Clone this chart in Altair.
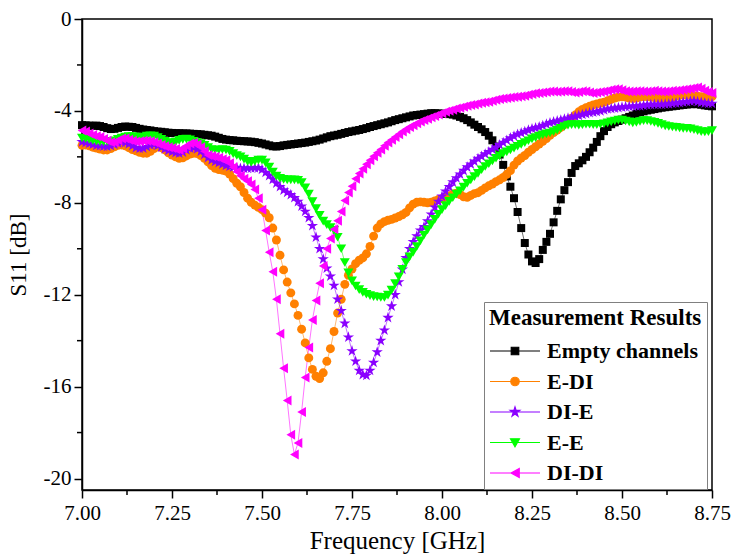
import altair as alt
import pandas as pd

# Frequency sweep (GHz), one point every 10 MHz from 7.00 to 8.75
freq = [round(7.0 + 0.01 * i, 2) for i in range(176)]

series_names = ["Empty channels", "E-DI", "DI-E", "E-E", "DI-DI"]
series_colors = ["#000000", "#FF8000", "#8A00FF", "#00FF00", "#FF00FF"]

empty_channels = [
    -4.62, -4.63, -4.64, -4.65, -4.64, -4.66, -4.70, -4.75, -4.79, -4.78,
    -4.74, -4.70, -4.68, -4.69, -4.70, -4.74, -4.78, -4.81, -4.83, -4.85,
    -4.88, -4.90, -4.91, -4.93, -4.95, -4.96, -4.97, -4.97, -4.98, -4.98,
    -4.99, -5.00, -5.01, -5.02, -5.04, -5.06, -5.08, -5.12, -5.17, -5.22,
    -5.25, -5.27, -5.28, -5.30, -5.31, -5.32, -5.33, -5.34, -5.36, -5.39,
    -5.42, -5.46, -5.50, -5.54, -5.55, -5.53, -5.50, -5.48, -5.46, -5.44,
    -5.42, -5.40, -5.38, -5.35, -5.32, -5.29, -5.25, -5.20, -5.15, -5.10,
    -5.07, -5.04, -5.00, -4.96, -4.92, -4.89, -4.86, -4.83, -4.79, -4.75,
    -4.70, -4.66, -4.62, -4.58, -4.54, -4.50, -4.45, -4.40, -4.36, -4.32,
    -4.28, -4.24, -4.20, -4.18, -4.16, -4.14, -4.12, -4.10, -4.10, -4.11,
    -4.12, -4.13, -4.14, -4.16, -4.20, -4.26, -4.32, -4.40, -4.50, -4.60,
    -4.70, -4.80, -4.92, -5.08, -5.28, -5.55, -5.90, -6.35, -6.85, -7.30,
    -7.80, -8.40, -9.10, -9.75, -10.25, -10.55, -10.62, -10.45, -10.05, -9.70,
    -9.35, -8.85, -8.35, -7.85, -7.45, -7.10, -6.70, -6.40, -6.28, -6.15,
    -6.00, -5.80, -5.60, -5.35, -5.10, -4.88, -4.70, -4.58, -4.50, -4.44,
    -4.38, -4.32, -4.26, -4.20, -4.12, -4.06, -4.02, -3.98, -3.95, -3.92,
    -3.89, -3.86, -3.84, -3.82, -3.80, -3.78, -3.76, -3.74, -3.72, -3.71,
    -3.70, -3.71, -3.73, -3.76, -3.78, -3.80,
]

e_di = [
    -5.50, -5.48, -5.52, -5.58, -5.62, -5.66, -5.70, -5.70, -5.64, -5.56,
    -5.50, -5.48, -5.52, -5.60, -5.68, -5.74, -5.80, -5.84, -5.84, -5.76,
    -5.64, -5.56, -5.60, -5.70, -5.82, -5.92, -6.00, -6.06, -6.04, -5.96,
    -5.88, -5.84, -5.86, -5.94, -6.06, -6.22, -6.38, -6.50, -6.55, -6.58,
    -6.62, -6.75, -6.95, -7.15, -7.30, -7.55, -7.80, -7.98, -8.10, -8.20,
    -8.30, -8.45, -8.65, -9.10, -9.62, -10.28, -10.92, -11.45, -11.92, -12.40,
    -12.90, -13.50, -14.10, -14.75, -15.25, -15.55, -15.65, -15.40, -14.90, -14.35,
    -13.60, -12.80, -12.20, -11.55, -11.15, -10.88, -10.65, -10.50, -10.40, -10.22,
    -9.90, -9.45, -9.10, -8.92, -8.82, -8.76, -8.72, -8.66, -8.60, -8.52,
    -8.42, -8.22, -8.06, -7.98, -7.96, -7.98, -8.00, -7.98, -7.92, -7.86,
    -7.82, -7.76, -7.70, -7.62, -7.58, -7.64, -7.74, -7.76, -7.68, -7.60,
    -7.56, -7.46, -7.35, -7.26, -7.18, -7.08, -7.00, -6.90, -6.76, -6.60,
    -6.36, -6.18, -6.05, -5.94, -5.80, -5.68, -5.56, -5.44, -5.32, -5.20,
    -5.06, -4.94, -4.84, -4.72, -4.60, -4.48, -4.32, -4.18, -4.04, -3.94,
    -3.86, -3.80, -3.74, -3.70, -3.66, -3.62, -3.56, -3.50, -3.44, -3.40,
    -3.38, -3.40, -3.44, -3.46, -3.44, -3.40, -3.38, -3.38, -3.40, -3.42,
    -3.44, -3.46, -3.46, -3.44, -3.40, -3.36, -3.32, -3.30, -3.30, -3.32,
    -3.34, -3.36, -3.38, -3.38, -3.38, -3.38,
]

di_e = [
    -5.35, -5.38, -5.42, -5.46, -5.50, -5.52, -5.54, -5.55, -5.52, -5.46,
    -5.40, -5.36, -5.38, -5.44, -5.52, -5.60, -5.64, -5.62, -5.56, -5.48,
    -5.46, -5.50, -5.58, -5.66, -5.72, -5.78, -5.82, -5.84, -5.80, -5.70,
    -5.62, -5.60, -5.66, -5.76, -5.90, -6.04, -6.14, -6.20, -6.26, -6.32,
    -6.38, -6.42, -6.45, -6.48, -6.50, -6.50, -6.50, -6.49, -6.48, -6.48,
    -6.55, -6.68, -6.82, -6.98, -7.15, -7.30, -7.45, -7.55, -7.65, -7.78,
    -7.95, -8.15, -8.38, -8.65, -9.00, -9.50, -10.00, -10.45, -10.85, -11.20,
    -11.60, -12.20, -12.70, -13.25, -13.85, -14.45, -14.90, -15.30, -15.48, -15.52,
    -15.30, -14.95, -14.50, -14.00, -13.55, -13.00, -12.50, -12.00, -11.45, -10.90,
    -10.40, -10.00, -9.70, -9.45, -9.20, -9.05, -8.80, -8.50, -8.20, -7.95,
    -7.72, -7.50, -7.30, -7.10, -6.92, -6.76, -6.60, -6.45, -6.32, -6.20,
    -6.08, -5.98, -5.88, -5.78, -5.68, -5.58, -5.48, -5.38, -5.28, -5.18,
    -5.10, -5.02, -4.96, -4.90, -4.84, -4.78, -4.74, -4.70, -4.64, -4.58,
    -4.52, -4.48, -4.44, -4.40, -4.36, -4.32, -4.28, -4.24, -4.20, -4.16,
    -4.12, -4.08, -4.06, -4.04, -4.00, -3.96, -3.92, -3.90, -3.88, -3.86,
    -3.84, -3.82, -3.81, -3.80, -3.79, -3.78, -3.76, -3.74, -3.73, -3.72,
    -3.72, -3.72, -3.71, -3.70, -3.68, -3.66, -3.64, -3.62, -3.60, -3.58,
    -3.57, -3.60, -3.63, -3.66, -3.68, -3.68,
]

e_e = [
    -5.18, -5.20, -5.24, -5.28, -5.32, -5.34, -5.34, -5.33, -5.33, -5.30,
    -5.24, -5.18, -5.14, -5.12, -5.12, -5.14, -5.16, -5.14, -5.10, -5.08,
    -5.10, -5.16, -5.24, -5.32, -5.38, -5.40, -5.36, -5.28, -5.24, -5.23,
    -5.26, -5.32, -5.38, -5.42, -5.50, -5.60, -5.68, -5.70, -5.70, -5.68,
    -5.70, -5.76, -5.86, -5.94, -6.00, -6.10, -6.20, -6.24, -6.20, -6.14,
    -6.14, -6.26, -6.45, -6.66, -6.84, -6.94, -6.98, -7.00, -7.00, -7.00,
    -7.02, -7.12, -7.35, -7.62, -7.95, -8.25, -8.55, -8.80, -8.95, -9.08,
    -9.20, -9.50, -10.00, -10.60, -11.05, -11.40, -11.62, -11.78, -11.90, -11.98,
    -12.04, -12.08, -12.10, -12.12, -12.12, -12.02, -11.80, -11.52, -11.22, -10.90,
    -10.60, -10.35, -10.15, -9.90, -9.65, -9.40, -9.18, -8.95, -8.72, -8.50,
    -8.30, -8.12, -7.94, -7.78, -7.62, -7.48, -7.32, -7.15, -7.00, -6.86,
    -6.72, -6.56, -6.42, -6.30, -6.18, -6.06, -5.96, -5.86, -5.78, -5.70,
    -5.62, -5.54, -5.46, -5.38, -5.30, -5.22, -5.16, -5.10, -5.04, -5.00,
    -4.96, -4.90, -4.84, -4.76, -4.68, -4.62, -4.60, -4.60, -4.62, -4.60,
    -4.58, -4.58, -4.60, -4.60, -4.58, -4.56, -4.52, -4.48, -4.44, -4.40,
    -4.40, -4.44, -4.48, -4.52, -4.50, -4.46, -4.42, -4.42, -4.46, -4.50,
    -4.54, -4.60, -4.65, -4.68, -4.70, -4.72, -4.74, -4.76, -4.76, -4.78,
    -4.82, -4.86, -4.90, -4.92, -4.90, -4.86,
]

di_di = [
    -4.85, -4.90, -4.98, -5.05, -5.10, -5.14, -5.22, -5.30, -5.36, -5.36,
    -5.28, -5.20, -5.20, -5.26, -5.30, -5.33, -5.32, -5.30, -5.30, -5.32,
    -5.36, -5.42, -5.48, -5.54, -5.58, -5.62, -5.66, -5.70, -5.64, -5.52,
    -5.42, -5.40, -5.46, -5.58, -5.76, -5.92, -5.96, -6.00, -6.04, -6.10,
    -6.15, -6.28, -6.45, -6.65, -6.82, -6.95, -7.06, -7.20, -7.42, -7.80,
    -8.30, -9.20, -10.15, -11.00, -12.20, -13.70, -15.20, -16.60, -18.10, -18.95,
    -18.45, -17.10, -15.60, -14.30, -13.10, -12.25, -11.50, -10.75, -10.00, -9.55,
    -9.15, -8.78, -8.38, -7.90, -7.55, -7.28, -6.95, -6.72, -6.52, -6.32,
    -6.15, -5.97, -5.82, -5.68, -5.52, -5.38, -5.26, -5.14, -5.02, -4.90,
    -4.80, -4.70, -4.62, -4.54, -4.46, -4.40, -4.34, -4.28, -4.22, -4.16,
    -4.10, -4.04, -3.99, -3.95, -3.90, -3.86, -3.82, -3.78, -3.74, -3.72,
    -3.68, -3.65, -3.62, -3.60, -3.56, -3.52, -3.48, -3.46, -3.44, -3.42,
    -3.40, -3.38, -3.36, -3.34, -3.30, -3.26, -3.23, -3.22, -3.20, -3.18,
    -3.16, -3.16, -3.17, -3.16, -3.14, -3.15, -3.18, -3.20, -3.18, -3.14,
    -3.16, -3.20, -3.22, -3.20, -3.18, -3.16, -3.12, -3.08, -3.06, -3.06,
    -3.10, -3.14, -3.16, -3.16, -3.14, -3.14, -3.16, -3.16, -3.14, -3.12,
    -3.14, -3.16, -3.16, -3.14, -3.12, -3.12, -3.10, -3.08, -3.06, -3.04,
    -3.00, -2.98, -3.04, -3.12, -3.18, -3.22,
]

x_ticks = [7.0, 7.25, 7.5, 7.75, 8.0, 8.25, 8.5, 8.75]
x_minor = [7.125, 7.375, 7.625, 7.875, 8.125, 8.375, 8.625]
y_ticks = [0, -4, -8, -12, -16, -20]
y_minor = [-2, -6, -10, -14, -18]

STAR = ("M0,-1L0.2245,-0.309L0.951,-0.309L0.363,0.118L0.588,0.809L0,0.382"
        "L-0.588,0.809L-0.363,0.118L-0.951,-0.309L-0.2245,-0.309Z")
marker_shapes = ["square", "circle", STAR, "triangle-down", "triangle-left"]
marker_sizes = [64, 80, 140, 100, 100]

# legend symbols: a line segment with the marker in the middle
LEG_SQUARE = "M-1,0H1M-0.15,-0.15H0.15V0.15H-0.15Z"
LEG_CIRCLE = "M-1,0H1M0.17,0A0.17,0.17 0 1,1 -0.17,0A0.17,0.17 0 1,1 0.17,0Z"
LEG_STAR = ("M-1,0H1M0,-0.2L0.045,-0.062L0.19,-0.062L0.073,0.024L0.118,0.162L0,0.076"
            "L-0.118,0.162L-0.073,0.024L-0.19,-0.062L-0.045,-0.062Z")
LEG_TDOWN = "M-1,0H1M-0.18,-0.15L0.18,-0.15L0,0.17Z"
LEG_TLEFT = "M-1,0H1M-0.16,0L0.17,-0.18L0.17,0.18Z"
legend_shapes = [LEG_SQUARE, LEG_CIRCLE, LEG_STAR, LEG_TDOWN, LEG_TLEFT]

FONT = "Liberation Serif"

all_vals = [empty_channels, e_di, di_e, e_e, di_di]
rows = []
for k, (name, vals) in enumerate(zip(series_names, all_vals)):
    for f, v in zip(freq, vals):
        rows.append({"series": name, "freq": f, "s11": v, "k": k})
df = pd.DataFrame(rows)

W, H = 630, 471

x_enc = alt.X("freq:Q",
              scale=alt.Scale(domain=[7.0, 8.75], nice=False, zero=False),
              axis=alt.Axis(values=x_ticks, format=".2f", title="Frequency [GHz]",
                            labelFont=FONT, labelFontSize=21, labelColor="black",
                            titleFont=FONT, titleFontSize=25, titleFontWeight="normal",
                            titleColor="black", titlePadding=5,
                            tickSize=8, tickWidth=1.5, tickColor="black",
                            domainColor="black", domainWidth=1.5,
                            labelPadding=4, labelFlush=False, labelOverlap=False,
                            grid=False))
y_enc = alt.Y("s11:Q",
              scale=alt.Scale(domain=[-20.5, 0], nice=False, zero=False),
              axis=alt.Axis(values=y_ticks, labelExpr="datum.value + ''",
                            title="S11 [dB]",
                            labelFont=FONT, labelFontSize=21, labelColor="black",
                            titleFont=FONT, titleFontSize=23, titleFontWeight="normal",
                            titleColor="black", titlePadding=13,
                            tickSize=8, tickWidth=1.5, tickColor="black",
                            domainColor="black", domainWidth=1.5,
                            labelPadding=3, labelOverlap=False, grid=False))

base = alt.Chart(df)

layers = []
# thin connecting lines, one per series
for name, col in zip(series_names, series_colors):
    layers.append(
        base.transform_filter(alt.datum.series == name)
        .mark_line(strokeWidth=1, opacity=0.55, color=col)
        .encode(x=x_enc, y=y_enc)
    )
# markers, one layer per series (drawn in legend order)
for name, col, shp, sz in zip(series_names, series_colors, marker_shapes, marker_sizes):
    layers.append(
        base.transform_filter(alt.datum.series == name)
        .mark_point(filled=True, opacity=1, shape=shp, size=sz, color=col)
        .encode(x=x_enc, y=y_enc)
    )

leg = alt.Legend(title="Measurement Results", orient="none",
                 legendX=402, legendY=283, direction="vertical",
                 fillColor="white", strokeColor="#808080",
                 padding=5, titleFont=FONT, titleFontSize=23, titleFontWeight="bold",
                 titleColor="black", titlePadding=10, titleLimit=400,
                 labelFont=FONT, labelFontSize=22, labelFontWeight="bold",
                 labelColor="black", labelLimit=400, labelOffset=6,
                 symbolSize=2500, symbolStrokeWidth=1.2, symbolOpacity=1,
                 symbolOffset=0, clipHeight=22, rowPadding=8.5)

legend_scale = alt.Scale(domain=series_names, range=series_colors)
# layer with no rows: it only carries the legend
layers.append(
    base.transform_filter("false")
    .mark_point(filled=True)
    .encode(
        x=x_enc, y=y_enc,
        fill=alt.Fill("series:N", scale=legend_scale, legend=leg),
        stroke=alt.Stroke("series:N", scale=legend_scale, legend=leg),
        shape=alt.Shape("series:N",
                        scale=alt.Scale(domain=series_names, range=legend_shapes),
                        legend=leg),
    )
)

minor_df = pd.DataFrame({"fx": x_minor})
layers.append(alt.Chart(minor_df).mark_rule(color="black", strokeWidth=1.5).encode(
    x=alt.X("fx:Q"), y=alt.value(H), y2=alt.value(H + 5)))
minor_ydf = pd.DataFrame({"vy": y_minor})
layers.append(alt.Chart(minor_ydf).mark_rule(color="black", strokeWidth=1.5).encode(
    y=alt.Y("vy:Q"), x=alt.value(0), x2=alt.value(-5)))

chart = alt.layer(*layers).properties(
    width=W, height=H,
    autosize=alt.AutoSizeParams(type="none"),
    padding={"left": 82, "top": 19, "right": 20, "bottom": 65},
    title=alt.TitleParams("(a)", font=FONT, fontSize=22, fontWeight="normal",
                          color="black", anchor="middle", baseline="bottom",
                          offset=13, dx=-25),
).configure_view(stroke="black", strokeWidth=1.5)

chart.save("out.html", embed_options={"renderer": "svg", "actions": False})
